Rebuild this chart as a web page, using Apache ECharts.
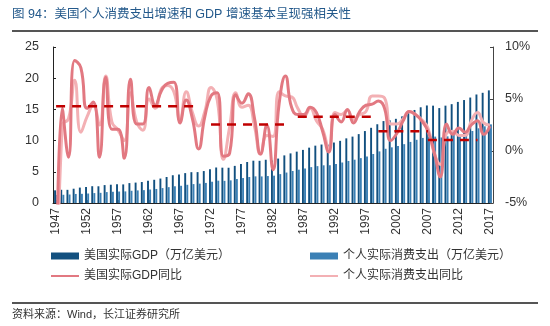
<!DOCTYPE html>
<html><head><meta charset="utf-8">
<script src="https://cdn.jsdelivr.net/npm/echarts@6/dist/echarts.min.js"></script>
<style>html,body{margin:0;padding:0;background:#fff}#c{width:550px;height:326px}</style>
</head><body><div id="c"></div>
<script>
const years = ['1947','1948','1949','1950','1951','1952','1953','1954','1955','1956','1957','1958','1959','1960','1961','1962','1963','1964','1965','1966','1967','1968','1969','1970','1971','1972','1973','1974','1975','1976','1977','1978','1979','1980','1981','1982','1983','1984','1985','1986','1987','1988','1989','1990','1991','1992','1993','1994','1995','1996','1997','1998','1999','2000','2001','2002','2003','2004','2005','2006','2007','2008','2009','2010','2011','2012','2013','2014','2015','2016','2017'];
// 美国实际GDP（万亿美元）
const gdp = [2.03,2.12,2.11,2.29,2.47,2.58,2.69,2.68,2.87,2.93,2.99,2.98,3.19,3.27,3.36,3.57,3.72,3.92,4.17,4.45,4.57,4.79,4.94,4.95,5.12,5.39,5.69,5.66,5.65,5.95,6.23,6.57,6.78,6.76,6.93,6.81,7.12,7.63,7.95,8.23,8.51,8.87,9.19,9.37,9.36,9.69,9.96,10.36,10.64,11.04,11.53,12.05,12.62,13.13,13.26,13.49,13.88,14.41,14.91,15.34,15.63,15.60,15.21,15.60,15.84,16.20,16.50,16.90,17.39,17.66,18.05];
// 个人实际消费支出（万亿美元）
const pce = [1.29,1.32,1.36,1.45,1.47,1.52,1.59,1.63,1.75,1.80,1.84,1.86,1.96,2.02,2.06,2.16,2.25,2.39,2.54,2.68,2.76,2.92,3.03,3.10,3.22,3.41,3.58,3.55,3.63,3.84,4.00,4.17,4.27,4.26,4.32,4.38,4.63,4.88,5.13,5.34,5.52,5.75,5.91,6.04,6.05,6.27,6.49,6.74,6.94,7.19,7.46,7.85,8.27,8.69,8.92,9.15,9.43,9.79,10.13,10.43,10.66,10.64,10.50,10.68,10.89,11.05,11.22,11.54,11.97,12.29,12.60];
// 美国实际GDP同比 (%), 1947 value is off the scale (below -5%)
const gdpYoy = [-20,4.1,-0.6,8.7,8.0,4.1,4.7,-0.6,7.1,2.1,2.1,-0.7,6.9,2.6,2.6,6.1,4.4,5.8,6.5,6.6,2.7,4.9,3.1,0.2,3.3,5.3,5.6,-0.5,-0.2,5.4,4.6,5.5,3.2,-0.3,2.5,-1.8,4.6,7.2,4.2,3.5,3.5,4.2,3.7,1.9,-0.1,3.5,2.8,4.0,2.7,3.8,4.4,4.5,4.8,4.1,1.0,1.7,2.9,3.8,3.5,2.9,1.9,-0.1,-2.5,2.6,1.6,2.2,1.8,2.5,2.9,1.6,2.4];
// 个人实际消费支出同比 (%)
const pceYoy = [-20,2.5,3.1,6.8,1.8,3.3,4.4,2.5,7.2,2.8,2.0,1.0,5.6,2.8,2.0,5.0,4.1,6.0,6.3,5.7,3.0,5.7,3.7,2.4,3.8,6.1,4.9,-0.8,2.3,5.6,4.2,4.4,2.4,-0.3,1.5,1.4,5.7,5.3,5.2,4.1,3.3,4.1,2.9,2.1,0.2,3.7,3.5,3.9,3.0,3.5,3.8,5.3,5.3,5.1,2.6,2.6,3.1,3.8,3.5,3.0,2.2,-0.2,-1.3,1.7,1.9,1.5,1.5,2.9,3.7,2.7,2.5];
// period averages (dashed)
const avgStart = ['1947','1972','1986','1999','2007'];
const avgEnd   = ['1970','1984','1998','2007','2015'];
const avgValue = [4.3, 2.55, 3.3, 1.9, 1.05];
const yLeftTicks = [0,5,10,15,20,25];
const yRightTicks = [-5,0,5,10];

const FONT = '"Liberation Sans","Noto Sans CJK SC",sans-serif';
const names = ['美国实际GDP（万亿美元）','个人实际消费支出（万亿美元）','美国实际GDP同比','个人实际消费支出同比'];

const avgSeries = avgStart.map((s, k) => {
  const a = years.indexOf(s), b = years.indexOf(avgEnd[k]);
  return {
    type: 'line', yAxisIndex: 1, symbol: 'none', silent: true, z: 5,
    data: years.map((y, i) => (i >= a && i <= b) ? avgValue[k] : null),
    lineStyle: {color: '#c00000', width: 2.5, type: [9, 7]}
  };
});

const chart = echarts.init(document.getElementById('c'), null, {renderer: 'canvas'});
const legendBase = {itemWidth: 28, textStyle: {fontSize: 12, color: '#333', fontFamily: FONT}, selectedMode: false};
chart.setOption({
  animation: false,
  textStyle: {fontFamily: FONT},
  grid: {left: 53, right: 57, top: 47, bottom: 123},
  legend: [
    Object.assign({}, legendBase, {data: [names[0]], left: 46, top: 245, itemHeight: 7, icon: 'rect'}),
    Object.assign({}, legendBase, {data: [names[1]], left: 305, top: 245, itemHeight: 7, icon: 'rect'}),
    Object.assign({}, legendBase, {data: [names[2]], left: 46, top: 265, itemHeight: 2, icon: 'rect'}),
    Object.assign({}, legendBase, {data: [names[3]], left: 305, top: 265, itemHeight: 2, icon: 'rect'})
  ],
  xAxis: {
    type: 'category', data: years, boundaryGap: true,
    axisLine: {lineStyle: {color: '#222', width: 1}},
    axisTick: {show: true, inside: true, interval: 4, alignWithLabel: true, length: 3, lineStyle: {color: '#222'}},
    axisLabel: {rotate: 90, interval: 4, fontSize: 12, color: '#333', margin: 5}
  },
  yAxis: [
    {type: 'value', min: yLeftTicks[0], max: yLeftTicks[yLeftTicks.length-1], interval: 5,
     axisLine: {show: true, lineStyle: {color: '#222'}},
     axisTick: {show: true, inside: true, length: 3, lineStyle: {color: '#222'}},
     splitLine: {show: false},
     axisLabel: {fontSize: 12.5, color: '#333', margin: 14}},
    {type: 'value', min: yRightTicks[0], max: yRightTicks[yRightTicks.length-1], interval: 5, position: 'right',
     axisLine: {show: true, lineStyle: {color: '#444'}},
     axisTick: {show: true, inside: true, length: 3, lineStyle: {color: '#444'}},
     splitLine: {show: false},
     axisLabel: {fontSize: 12.5, color: '#333', margin: 12, formatter: '{value}%'}}
  ],
  series: [
    {name: names[0], type: 'bar', data: gdp, color: '#12507f', barGap: '10%', barCategoryGap: '35%'},
    {name: names[1], type: 'bar', data: pce, color: '#3b80b5'},
    {name: names[3], type: 'line', yAxisIndex: 1, data: pceYoy, smooth: true, symbol: 'none', color: '#f3b0b4', lineStyle: {width: 3}, z: 3},
    {name: names[2], type: 'line', yAxisIndex: 1, data: gdpYoy, smooth: true, symbol: 'none', color: '#e27881', lineStyle: {width: 3}, z: 4}
  ].concat(avgSeries),
  graphic: [
    {type: 'text', left: 12, top: 8, style: {text: '图 94：美国个人消费支出增速和 GDP 增速基本呈现强相关性', font: '12.5px ' + FONT, fill: '#23598b'}},
    {type: 'rect', shape: {x: 12, y: 30, width: 526, height: 2}, style: {fill: '#555'}},
    {type: 'rect', shape: {x: 12, y: 302, width: 526, height: 2}, style: {fill: '#555'}},
    {type: 'text', left: 12, top: 309, style: {text: '资料来源：Wind，长江证券研究所', font: '11px ' + FONT, fill: '#333'}}
  ]
});
</script></body></html>
